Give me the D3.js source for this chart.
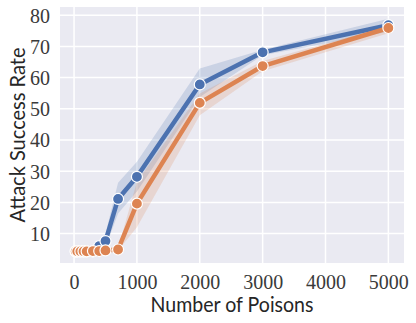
<!DOCTYPE html>
<html><head><meta charset="utf-8">
<script src="https://cdn.jsdelivr.net/npm/d3@7"></script>
<style>html,body{margin:0;padding:0;background:#fff;}svg{display:block;}</style>
</head><body>
<svg id="chart" width="416" height="323"></svg>
<script>
const poisons = [25, 50, 100, 150, 200, 300, 400, 500, 700, 1000, 2000, 3000, 5000];
const blueMean = [4.3, 4.3, 4.3, 4.3, 4.3, 4.3, 6.0, 7.6, 21.1, 28.2, 57.8, 68.1, 76.8];
const blueLow  = [4.3, 4.3, 4.3, 4.3, 4.3, 4.3, 5.0, 5.6, 16.4, 23.5, 53.8, 67.2, 74.7];
const blueHigh = [4.3, 4.3, 4.3, 4.3, 4.3, 4.3, 7.2, 10.0, 26.3, 33.0, 62.9, 68.9, 78.9];
const orangeMean = [4.3, 4.3, 4.3, 4.3, 4.3, 4.4, 4.4, 4.6, 4.9, 19.6, 51.9, 63.7, 75.9];
const orangeLow  = [4.3, 4.3, 4.3, 4.3, 4.3, 4.3, 4.3, 4.4, 4.6, 12.0, 47.9, 62.0, 74.2];
const orangeHigh = [4.3, 4.3, 4.3, 4.3, 4.3, 4.5, 4.6, 4.9, 5.2, 26.6, 54.9, 65.3, 76.5];
const xTicks = [0, 1000, 2000, 3000, 4000, 5000];
const yTicks = [10, 20, 30, 40, 50, 60, 70, 80];
const xLabel = "Number of Poisons";
const yLabel = "Attack Success Rate";

const series = [
  {mean: blueMean, low: blueLow, high: blueHigh, color: "#4C72B0"},
  {mean: orangeMean, low: orangeLow, high: orangeHigh, color: "#DD8452"}
];

const L = 60, R = 404, T = 7, B = 263;
const svg = d3.select("#chart");

const xmin = d3.min(poisons), xmax = d3.max(poisons), xr = xmax - xmin;
const x = d3.scaleLinear().domain([xmin - 0.05 * xr, xmax + 0.05 * xr]).range([L, R]);
const allY = series.flatMap(s => s.low.concat(s.high));
const ymin = d3.min(allY), ymax = d3.max(allY), yr = ymax - ymin;
const y = d3.scaleLinear().domain([ymin - 0.05 * yr, ymax + 0.05 * yr]).range([B, T]);

svg.append("rect").attr("x", L).attr("y", T).attr("width", R - L).attr("height", B - T).attr("fill", "#EAEAF2");

// grid
svg.append("g").selectAll("line").data(xTicks).join("line")
  .attr("x1", d => x(d)).attr("x2", d => x(d)).attr("y1", T).attr("y2", B)
  .attr("stroke", "#fff").attr("stroke-width", 1.5);
svg.append("g").selectAll("line").data(yTicks).join("line")
  .attr("y1", d => y(d)).attr("y2", d => y(d)).attr("x1", L).attr("x2", R)
  .attr("stroke", "#fff").attr("stroke-width", 1.5);

// axes (tick labels)
const xAxis = svg.append("g").attr("transform", `translate(0,${B})`)
  .call(d3.axisBottom(x).tickValues(xTicks).tickSize(0).tickPadding(26).tickFormat(d3.format("d")));
const yAxis = svg.append("g").attr("transform", `translate(${L},0)`)
  .call(d3.axisLeft(y).tickValues(yTicks).tickSize(0).tickPadding(10).tickFormat(d3.format("d")));
[xAxis, yAxis].forEach(a => {
  a.select(".domain").remove();
  a.attr("font-family", null).attr("font-size", null);
  a.selectAll("text").style("font-family", "'Liberation Serif'")
    .style("font-size", "20px").attr("fill", "#3a3a3a");
});
xAxis.selectAll("text").attr("dy", null).attr("y", 26);
yAxis.selectAll("text").attr("dy", "0.35em");

const idx = d3.range(poisons.length);
// bands
series.forEach(s => {
  svg.append("path").datum(idx)
    .attr("d", d3.area().x(i => x(poisons[i])).y0(i => y(s.low[i])).y1(i => y(s.high[i])))
    .attr("fill", s.color).attr("fill-opacity", 0.2).attr("stroke", "none");
});
// lines + markers
series.forEach(s => {
  svg.append("path").datum(idx)
    .attr("d", d3.line().x(i => x(poisons[i])).y(i => y(s.mean[i])))
    .attr("fill", "none").attr("stroke", s.color).attr("stroke-width", 4.5).attr("stroke-linejoin", "round");
  svg.append("g").selectAll("circle").data(idx).join("circle")
    .attr("cx", i => x(poisons[i])).attr("cy", i => y(s.mean[i])).attr("r", 5.5)
    .attr("fill", s.color).attr("stroke", "#fff").attr("stroke-width", 1.2);
});

// labels
svg.append("text").attr("x", (L + R) / 2).attr("y", 312).attr("text-anchor", "middle")
  .style("font-family", "'Lato'").style("font-size", "21px").attr("fill", "#262626")
  .attr("textLength", 163).attr("lengthAdjust", "spacingAndGlyphs").text(xLabel);
svg.append("text").attr("transform", `translate(25,${(T + B) / 2}) rotate(-90)`).attr("text-anchor", "middle")
  .style("font-family", "'Lato'").style("font-size", "22px").attr("fill", "#262626")
  .attr("textLength", 175).attr("lengthAdjust", "spacingAndGlyphs").text(yLabel);
</script>
</body></html>
